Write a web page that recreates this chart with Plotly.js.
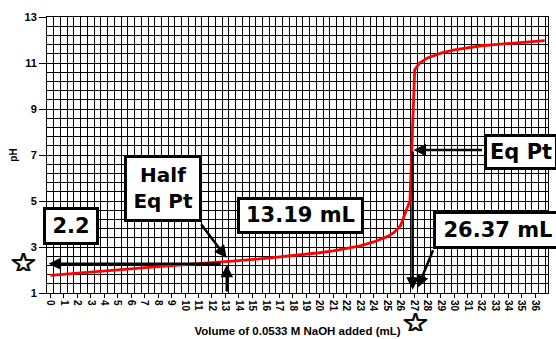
<!DOCTYPE html>
<html>
<head>
<meta charset="utf-8">
<script src="https://cdn.plot.ly/plotly-3.0.1.min.js"></script>
<style>html,body{margin:0;padding:0;background:#fff;}#chart{width:556px;height:339px;}</style>
</head>
<body>
<div id="chart"></div>
<script>
// Titration curve
var volumeML = [0, 2, 4, 6, 8, 10, 12, 13, 14, 16, 18, 20, 21, 22, 23, 24, 25, 25.5, 26, 26.4, 26.7, 27.05, 27.4, 28, 29, 30, 31, 32, 33, 34, 35, 36, 36.7];
var pH       = [1.77, 1.87, 1.97, 2.06, 2.15, 2.23, 2.31, 2.36, 2.41, 2.51, 2.62, 2.75, 2.83, 2.93, 3.05, 3.22, 3.45, 3.62, 3.92, 4.55, 5.0, 10.7, 10.99, 11.22, 11.43, 11.57, 11.67, 11.75, 11.8, 11.85, 11.9, 11.94, 11.97];

// Annotation texts
var boxTexts = ["2.2", "Half<br>Eq Pt", "13.19 mL", "Eq Pt", "26.37 mL"];
var xTitle = "Volume of 0.0533 M NaOH added (mL)";
var yTitle = "pH";
var starText = "\u2606";

var boxFont = {family: "DejaVu Sans", size: 21, color: "#000", weight: "bold"};
function box(text, x, y, w, h, size) {
  return {text: text, xref: "paper", yref: "paper", x: x, y: y, xanchor: "left", yanchor: "top",
    showarrow: false, bgcolor: "#fff", bordercolor: "#000", borderwidth: 3, borderpad: 0,
    width: w, height: h, align: "center", valign: "middle",
    font: Object.assign({}, boxFont, {size: size || 21})};
}
function arrow(x, y, ax, ay) {
  return {text: "", x: x, y: y, ax: ax, ay: ay, xref: "x", yref: "y", axref: "x", ayref: "y",
    showarrow: true, arrowhead: 2, arrowsize: 1, arrowwidth: 2.5, arrowcolor: "#000", standoff: 0, startstandoff: 0};
}
function star(x, y) {
  return {text: starText, xref: "paper", yref: "paper", x: x, y: y, xanchor: "center", yanchor: "middle",
    width: 26, height: 18, showarrow: false,
    font: {family: "DejaVu Sans", size: 31, color: "#000", weight: "bold",
           shadow: "1px 0px 0px #000, 1px 1px 0px #000, 0px 1px 0px #000"}};
}

var annotations = [
  box(boxTexts[0], -0.008, 0.3134, 50, 32.3),
  box(boxTexts[1], 0.1527, 0.5005, 72.4, 60.7, 20),
  box(boxTexts[2], 0.380, 0.3496, 121, 30.6),
  box(boxTexts[3], 0.8724, 0.5765, 68, 30),
  box(boxTexts[4], 0.7707, 0.2953, 124, 31.6),
  arrow(13.09, 2.52, 11.11, 4.05),
  arrow(-0.13, 2.27, 12.75, 2.27),
  arrow(13.1, 2.23, 13.1, 1.0),
  arrow(26.97, 7.22, 32.16, 7.22),
  arrow(26.9, 1.14, 26.9, 7.22),
  arrow(27.27, 1.23, 28.46, 2.92),
  star(-0.0482, 0.112),
  star(0.7343, -0.104)
];

var trace = {x: volumeML, y: pH, mode: "lines", line: {color: "#ff0000", width: 2.8}, hoverinfo: "skip"};

var layout = {
  width: 556, height: 339,
  margin: {l: 47, r: 8, t: 17, b: 46, pad: 0},
  paper_bgcolor: "#fff", plot_bgcolor: "#fff",
  showlegend: false,
  font: {family: "Liberation Sans, Arial", color: "#000"},
  xaxis: {
    range: [-0.25, 36.95], tickmode: "linear", tick0: 0, dtick: 1,
    showgrid: false, zeroline: false,
    showline: true, linecolor: "#000", linewidth: 1, mirror: true,
    ticks: "outside", ticklen: 4, tickcolor: "#000", tickwidth: 1,
    tickangle: 90, tickfont: {size: 10, weight: "bold", family: "Liberation Sans, Arial"},
    minor: {tick0: -0.25, dtick: 0.5, showgrid: true, gridcolor: "#000", gridwidth: 1, ticks: ""},
    title: {text: xTitle, font: {size: 11.5, weight: "bold", family: "Liberation Sans, Arial"}, standoff: 16}
  },
  yaxis: {
    range: [1, 13], tickmode: "linear", tick0: 1, dtick: 2,
    showgrid: true, gridcolor: "#000", gridwidth: 1, zeroline: false,
    showline: true, linecolor: "#000", linewidth: 1, mirror: true,
    ticks: "outside", ticklen: 7, tickcolor: "#000", tickwidth: 1,
    tickfont: {size: 11, weight: "bold", family: "Liberation Sans, Arial"},
    minor: {tick0: 1, dtick: 0.4, showgrid: true, gridcolor: "#000", gridwidth: 1, ticks: ""},
    title: {text: yTitle, font: {size: 10, weight: "bold", family: "Liberation Sans, Arial"}, standoff: 5}
  },
  annotations: annotations
};

Plotly.newPlot("chart", [trace], layout, {staticPlot: true, displayModeBar: false});
</script>
</body>
</html>
